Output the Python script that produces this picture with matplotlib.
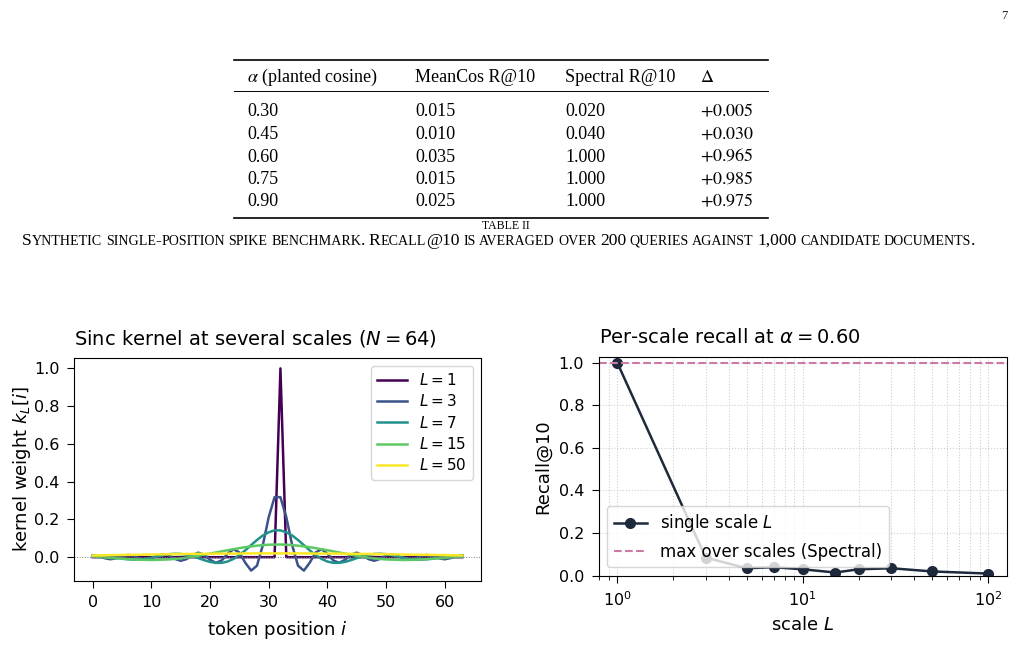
import numpy as np
import matplotlib
matplotlib.use("Agg")
import matplotlib.pyplot as plt
from matplotlib.lines import Line2D

# --- table data ---
header = ["$\\alpha$ (planted cosine)", "MeanCos R@10", "Spectral R@10", "$\\Delta$"]
alphas = [0.30, 0.45, 0.60, 0.75, 0.90]
meancos = [0.015, 0.010, 0.035, 0.015, 0.025]
spectral = [0.020, 0.040, 1.000, 1.000, 1.000]
delta = [0.005, 0.030, 0.965, 0.985, 0.975]
caption = ("Synthetic single-position spike benchmark. Recall@10 is averaged over "
           "200 queries against 1,000 candidate documents.")

# --- sinc kernels ---
kernel_scales = [1, 3, 7, 15, 50]
k1 = [0.0] * 32 + [1.0] + [0.0] * 31
k3 = [0.010, 0.005, -0.005, -0.011, -0.006, 0.006, 0.012, 0.007, -0.007, -0.014, -0.007,
      0.008, 0.016, 0.009, -0.009, -0.019, -0.010, 0.011, 0.024, 0.013, -0.014, -0.030,
      -0.017, 0.019, 0.042, 0.025, -0.029, -0.071, -0.045, 0.064, 0.212, 0.318,
      0.318, 0.212, 0.064, -0.045, -0.071, -0.029, 0.025, 0.042, 0.019, -0.017, -0.030,
      -0.014, 0.013, 0.024, 0.011, -0.010, -0.019, -0.009, 0.009, 0.016, 0.008, -0.007,
      -0.014, -0.007, 0.007, 0.012, 0.006, -0.006, -0.011, -0.005, 0.005, 0.010]
k7 = [0.010, 0.009, 0.007, 0.003, -0.003, -0.008, -0.011, -0.013, -0.012, -0.009, -0.003,
      0.004, 0.010, 0.016, 0.018, 0.017, 0.013, 0.005, -0.005, -0.016, -0.025, -0.030,
      -0.030, -0.023, -0.009, 0.011, 0.036, 0.064, 0.091, 0.115, 0.132, 0.142,
      0.142, 0.132, 0.115, 0.091, 0.064, 0.036, 0.011, -0.009, -0.023, -0.030, -0.030,
      -0.025, -0.016, -0.005, 0.005, 0.013, 0.017, 0.018, 0.016, 0.010, 0.004, -0.003,
      -0.009, -0.012, -0.013, -0.011, -0.008, -0.003, 0.003, 0.007, 0.009, 0.010]
k15 = [0.003, 0.001, -0.001, -0.004, -0.006, -0.008, -0.010, -0.012, -0.013, -0.014, -0.015,
       -0.014, -0.013, -0.012, -0.009, -0.006, -0.002, 0.002, 0.007, 0.013, 0.019, 0.025,
       0.031, 0.037, 0.042, 0.048, 0.053, 0.057, 0.061, 0.064, 0.066, 0.067,
       0.067, 0.066, 0.064, 0.061, 0.057, 0.053, 0.048, 0.042, 0.037, 0.031, 0.025,
       0.019, 0.013, 0.007, 0.002, -0.002, -0.006, -0.009, -0.012, -0.013, -0.014, -0.015,
       -0.014, -0.013, -0.012, -0.010, -0.008, -0.006, -0.004, -0.001, 0.001, 0.003]
k50 = [0.009, 0.010, 0.010, 0.011, 0.011, 0.012, 0.012, 0.013, 0.013, 0.014, 0.014,
       0.015, 0.015, 0.016, 0.016, 0.017, 0.017, 0.017, 0.018, 0.018, 0.018, 0.019,
       0.019, 0.019, 0.019, 0.019, 0.020, 0.020, 0.020, 0.020, 0.020, 0.020,
       0.020, 0.020, 0.020, 0.020, 0.020, 0.020, 0.019, 0.019, 0.019, 0.019, 0.019,
       0.018, 0.018, 0.018, 0.017, 0.017, 0.017, 0.016, 0.016, 0.015, 0.015, 0.014,
       0.014, 0.013, 0.013, 0.012, 0.012, 0.011, 0.011, 0.010, 0.010, 0.009]
kernels = [k1, k3, k7, k15, k50]

# --- per-scale recall at alpha = 0.60 ---
scales = [1, 3, 5, 7, 10, 15, 20, 30, 50, 100]
recall = [1.0, 0.085, 0.035, 0.04, 0.03, 0.015, 0.03, 0.035, 0.02, 0.01]
spectral_max = 1.0

W, H = 1026, 646
SERIF = "Liberation Serif"
fig = plt.figure(figsize=(W / 100, H / 100), dpi=100)
renderer = fig.canvas.get_renderer()


def fx(x):
    return x / W


def fy(y):
    return 1 - y / H


def hline(x0, x1, y, lw):
    fig.add_artist(Line2D([fx(x0), fx(x1)], [fy(y), fy(y)], color="black",
                          lw=lw, transform=fig.transFigure))


def width_of(s, size):
    t = fig.text(0, 0, s, fontsize=size, family=SERIF)
    w = t.get_window_extent(renderer).width
    t.remove()
    return w


def split_caps(text):
    words = []
    for word in text.split(" "):
        runs, cur, cur_small = [], "", None
        for ch in word:
            small = ch.islower()
            if cur and small != cur_small:
                runs.append((cur, cur_small))
                cur = ""
            cur += ch.upper() if small else ch
            cur_small = small
        runs.append((cur, cur_small))
        words.append(runs)
    return words


def caps_width(words, size, ratio):
    space = width_of("X X", size * ratio) - width_of("XX", size * ratio)
    total = sum(width_of(s, size * ratio if sm else size) for r in words for s, sm in r)
    return total + space * (len(words) - 1), space


def small_caps(text, xc, y, target_w, ratio=0.8):
    """Fake LaTeX small caps, scaled so the line spans target_w pixels."""
    words = split_caps(text)
    w0, _ = caps_width(words, 10, ratio)
    size = 10 * target_w / w0
    total, space = caps_width(words, size, ratio)
    x = xc - total / 2
    for runs in words:
        for s, sm in runs:
            sz = size * ratio if sm else size
            fig.text(fx(x), fy(y), s, fontsize=sz, family=SERIF, va="baseline")
            x += width_of(s, sz)
        x += space


# page number
fig.text(fx(1008), fy(19), "7", fontsize=9, family=SERIF, color="#222222", ha="right")

# --- table ---
TS = 13
col_x = [247, 415, 565, 700]
hline(234, 768, 60, 1.2)
hline(234, 768, 91, 0.7)
hline(234, 768, 218, 1.2)
for x, txt in zip(col_x, header):
    fig.text(fx(x), fy(81.5), txt, fontsize=TS, family=SERIF, math_fontfamily="stix",
             va="baseline")
for i in range(len(alphas)):
    yb = 116.5 + i * 22.5
    cells = [f"{alphas[i]:.2f}", f"{meancos[i]:.3f}", f"{spectral[i]:.3f}",
             f"$+{delta[i]:.3f}$"]
    for x, txt in zip(col_x, cells):
        fig.text(fx(x), fy(yb), txt, fontsize=TS, family=SERIF, math_fontfamily="stix",
                 va="baseline")

fig.text(fx(506), fy(229), "TABLE II", fontsize=8.5, family=SERIF, ha="center",
         va="baseline")
small_caps(caption, 499, 245, 950)

# shared axis styling
TICK = dict(labelsize=11.5, length=5, pad=5.5)

# --- left panel: sinc kernels ---
ax1 = fig.add_axes([fx(74.3), fy(580.7), (480.7 - 74.3) / W, (580.7 - 358.3) / H])
pos = np.arange(len(k1))
colors = plt.cm.viridis(np.linspace(0, 1, len(kernel_scales)))
for vals, L, c in zip(kernels, kernel_scales, colors):
    ax1.plot(pos, vals, color=c, lw=1.8, label=f"$L={L}$")
ax1.axhline(0, color="gray", lw=0.7, ls=":")
ax1.set_title("Sinc kernel at several scales ($N=64$)", loc="left", fontsize=14, pad=10)
ax1.set_xlabel("token position $i$", fontsize=13, labelpad=6)
ax1.set_ylabel("kernel weight $k_L[i]$", fontsize=13, labelpad=1)
ax1.tick_params(**TICK)
ax1.legend(loc="upper right", fontsize=11, labelspacing=0.35)

# --- right panel: per-scale recall ---
ax2 = fig.add_axes([fx(598.7), fy(575.7), (1006.7 - 598.7) / W, (575.7 - 357.3) / H])
ax2.semilogx(scales, recall, marker="o", color="#1e293b", lw=1.8, ms=7,
             label="single scale $L$")
ax2.axhline(spectral_max, color="#cc79a7", ls="--", lw=1.5,
            label="max over scales (Spectral)")
ax2.set_ylim(0, 1.025)
ax2.grid(True, which="both", ls=":", lw=0.8, alpha=0.6)
ax2.set_title("Per-scale recall at $\\alpha=0.60$", loc="left", fontsize=14, pad=10)
ax2.set_xlabel("scale $L$", fontsize=13, labelpad=5)
ax2.set_ylabel("Recall@10", fontsize=13, labelpad=5)
ax2.tick_params(which="both", **TICK)
ax2.tick_params(which="minor", length=3)
ax2.legend(loc="lower left", fontsize=12)

fig.savefig("out.png", dpi=100)
